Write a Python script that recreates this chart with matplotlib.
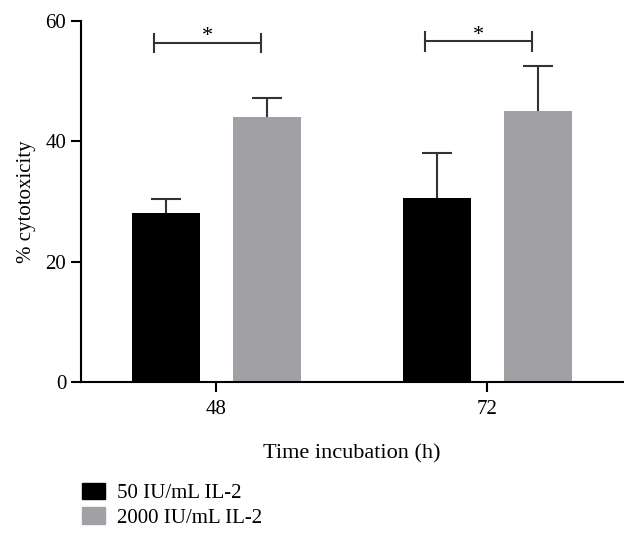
import numpy as np
import matplotlib
matplotlib.use('Agg')
import matplotlib.pyplot as plt
from matplotlib.patches import Patch

# datos
times = ['48', '72']
series = ['50 IU/mL IL-2', '2000 IU/mL IL-2']
low_mean = [28.1, 30.6]
low_err = [2.3, 7.5]
high_mean = [44.1, 45.0]
high_err = [3.1, 7.5]
sig_labels = ['*', '*']
sig_height = [56.4, 56.6]

plt.rcParams['font.family'] = ['Liberation Serif', 'DejaVu Serif']

colors = ['#000000', '#A1A1A5']
ecol = '#333333'
x = np.arange(len(times))
width = 0.25
off = 0.186
cap = 0.055

fig = plt.figure(figsize=(6.37, 5.39), dpi=100)
ax = fig.add_axes([0.127, 0.291, 0.851, 0.67])

ax.bar(x - off, low_mean, width, color=colors[0], label=series[0], zorder=2)
ax.bar(x + off, high_mean, width, color=colors[1], label=series[1], zorder=2)

# barras de error solo hacia arriba
for pos, m, e in [(x - off, low_mean, low_err), (x + off, high_mean, high_err)]:
    top = np.array(m) + np.array(e)
    ax.vlines(pos, m, top, color=ecol, lw=1.5, zorder=3)
    ax.hlines(top, pos - cap, pos + cap, color=ecol, lw=1.5, zorder=3)

# corchetes de significancia
for i in range(len(times)):
    x0, x1 = x[i] - 0.23, x[i] + 0.165
    y = sig_height[i]
    ax.plot([x0, x1], [y, y], color=ecol, lw=1.5)
    ax.plot([x0, x0], [y - 1.5, y + 1.5], color=ecol, lw=1.5)
    ax.plot([x1, x1], [y - 1.5, y + 1.5], color=ecol, lw=1.5)
    ax.text((x0 + x1) / 2, y + 0.2, sig_labels[i], ha='center', va='baseline', fontsize=16)

ax.set_xlim(-0.5, 1.5)
ax.set_ylim(0, 60)
ax.set_yticks([0, 20, 40, 60])
ax.set_xticks(x)
ax.set_xticklabels(times)
ax.spines['top'].set_visible(False)
ax.spines['right'].set_visible(False)
for s in ['left', 'bottom']:
    ax.spines[s].set_linewidth(1.5)
ax.tick_params(width=1.5, length=7, labelsize=15)
ax.tick_params(axis='x', pad=6)
ax.set_xlabel('Time incubation (h)', fontsize=16, labelpad=18)
ax.set_ylabel('% cytotoxicity', fontsize=15, labelpad=7)

handles = [Patch(color=colors[0]), Patch(color=colors[1])]
fig.legend(handles, series, loc='upper left', bbox_to_anchor=(0.115, 0.12),
           frameon=False, fontsize=15, handlelength=1.1, handleheight=0.85,
           handletextpad=0.6, labelspacing=0.2, borderaxespad=0)

fig.savefig('out.png', dpi=100)
